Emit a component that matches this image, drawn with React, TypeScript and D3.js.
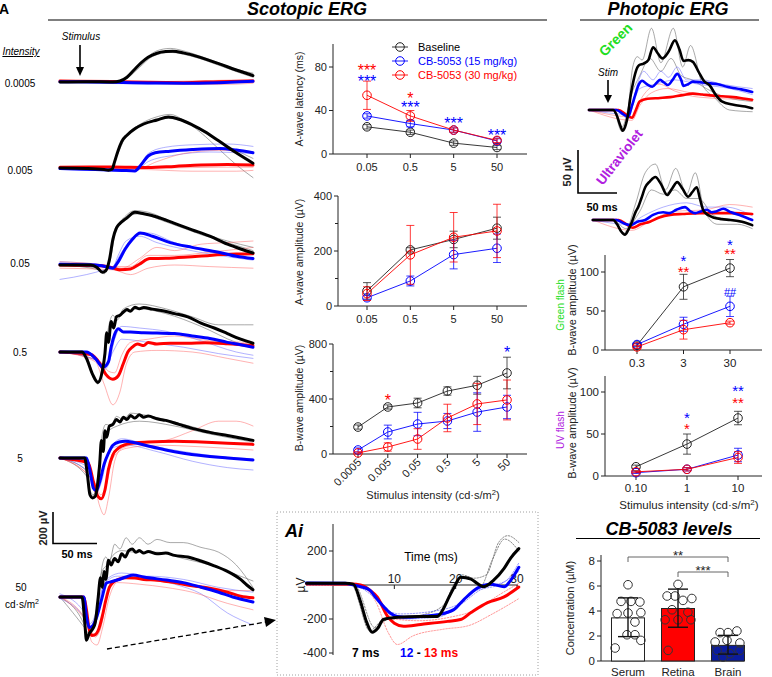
import React from 'react';
import * as d3 from 'd3';

type Pt = [number, number];
const FONT = 'Arial, "Liberation Sans", Helvetica, sans-serif';
const BLACK = '#000000';
const BLUE = '#0000ff';
const RED = '#ff0000';
const GREEN = '#22dd22';
const PURPLE = '#b020e0';
const NAVY = '#0b1c9e';

// ================= DATA =================
// ---- Scotopic ERG traces (time ms, amplitude µV) ----
const scotIntensities = ['0.0005', '0.005', '0.05', '0.5', '5', '50'];

const scot1Black: Pt[] = [[0,0],[30,2],[60,0],[68,6],[76,30],[84,75],[92,120],[100,155],[110,180],[120,190],[128,192],[140,182],[160,152],[180,115],[200,75],[219,40]];
const scot1Blue: Pt[] = [[0,2],[60,-2],[100,-6],[140,-8],[180,-4],[219,4]];
const scot1Red: Pt[] = [[0,6],[60,3],[100,-2],[140,-4],[180,2],[219,6]];
const scot1ThinBlack: Pt[][] = [
  [[0,0],[60,0],[70,10],[80,45],[90,110],[100,160],[110,195],[125,210],[140,195],[160,160],[180,120],[200,80],[219,55]],
  [[0,0],[60,0],[75,20],[90,90],[105,160],[125,185],[150,160],[180,105],[200,65],[219,30]],
];
const scot1ThinBlue: Pt[][] = [[[0,-3],[100,-12],[160,-6],[219,2]]];
const scot1ThinRed: Pt[][] = [
  [[0,3],[60,0],[120,-12],[180,-16],[219,-8]],
  [[0,8],[100,2],[160,8],[219,15]],
];

const scot2Black: Pt[] = [[0,0],[30,-3],[50,-10],[55,-14],[59,-8],[62,40],[66,110],[70,165],[76,205],[85,245],[95,275],[110,300],[123,318],[135,305],[150,270],[165,225],[180,170],[200,95],[219,30]];
const scot2Blue: Pt[] = [[0,-3],[40,-10],[70,-15],[85,-18],[92,20],[100,75],[108,95],[125,105],[150,115],[182,122],[200,112],[219,95]];
const scot2Red: Pt[] = [[0,5],[60,6],[100,3],[130,10],[160,18],[190,22],[219,18]];
const scot2ThinBlack: Pt[][] = [
  [[0,0],[50,-10],[58,-10],[62,40],[68,120],[75,200],[90,270],[110,320],[125,335],[140,300],[160,220],[180,120],[200,20],[219,-60]],
  [[0,5],[50,-5],[60,0],[64,80],[70,160],[80,230],[100,290],[123,310],[145,280],[170,200],[200,110],[219,60]],
];
const scot2ThinBlue: Pt[][] = [
  [[0,-5],[60,-15],[85,-15],[100,90],[120,130],[150,145],[190,150],[219,135]],
  [[0,-5],[85,-20],[100,40],[130,80],[170,100],[219,90]],
];
const scot2ThinRed: Pt[][] = [
  [[0,5],[90,0],[110,40],[140,90],[180,110],[219,100]],
  [[0,0],[100,-10],[150,-20],[200,-20],[219,-15]],
  [[0,0],[120,0],[180,5],[219,5]],
];

const scot3Black: Pt[] = [[0,0],[35,0],[42,-15],[48,-45],[52,-35],[56,30],[60,160],[64,230],[68,260],[75,290],[85,330],[95,320],[110,300],[130,260],[150,220],[170,180],[190,130],[205,100],[219,75]];
const scot3Blue: Pt[] = [[0,5],[40,0],[52,-10],[60,-20],[66,20],[74,100],[82,160],[91,200],[105,180],[125,140],[150,110],[180,80],[200,55],[219,40]];
const scot3Red: Pt[] = [[0,0],[45,-5],[58,-15],[68,-30],[80,-25],[90,5],[102,40],[120,42],[145,50],[170,60],[200,68],[219,70]];
const scot3ThinBlack: Pt[][] = [
  [[0,0],[44,-20],[49,-40],[57,60],[62,220],[70,280],[85,340],[100,330],[130,260],[160,200],[190,150],[219,110]],
  [[0,0],[44,-30],[50,-55],[57,30],[64,230],[75,300],[90,320],[120,270],[160,190],[190,140],[219,90]],
];
const scot3ThinBlue: Pt[][] = [
  [[0,-90],[30,-60],[50,-30],[60,-10],[70,80],[85,180],[100,200],[130,140],[170,80],[219,40]],
  [[0,20],[50,0],[60,-10],[66,60],[75,150],[90,180],[110,140],[140,100],[219,30]],
];
const scot3ThinRed: Pt[][] = [
  [[0,20],[50,0],[70,-20],[90,40],[110,110],[130,90],[160,130],[190,140],[219,150]],
  [[0,-20],[60,-30],[80,-60],[100,-20],[130,0],[170,-10],[219,-20]],
  [[0,0],[60,-10],[80,-10],[100,60],[130,60],[170,80],[219,110]],
];

const scot4Black: Pt[] = [[0,0],[25,0],[30,-40],[37,-140],[43,-190],[48,-120],[51,-10],[53,120],[55,60],[58,190],[61,150],[64,220],[68,230],[72,250],[76,265],[80,255],[85,280],[90,270],[95,278],[105,268],[115,260],[130,240],[145,220],[160,180],[175,150],[190,115],[205,80],[219,55]];
const scot4Blue: Pt[] = [[0,0],[30,0],[40,-40],[49,-95],[55,-60],[58,30],[62,110],[66,145],[72,125],[80,125],[95,120],[110,118],[130,115],[150,100],[170,85],[190,60],[205,45],[219,30]];
const scot4Red: Pt[] = [[0,0],[35,-15],[45,-70],[52,-140],[60,-170],[66,-150],[72,-70],[77,0],[82,30],[88,50],[95,40],[100,60],[110,50],[125,55],[145,55],[165,58],[190,52],[219,40]];
const scot4ThinBlack: Pt[][] = [
  [[0,0],[28,-20],[37,-150],[43,-200],[48,-100],[52,50],[56,180],[60,230],[65,200],[72,270],[90,300],[120,270],[150,220],[180,170],[200,170],[219,170]],
  [[0,0],[30,-30],[40,-170],[45,-180],[50,-50],[55,100],[60,180],[70,240],[90,270],[120,240],[160,160],[200,60],[219,30]],
];
const scot4ThinBlue: Pt[][] = [
  [[0,0],[40,-50],[50,-110],[55,-80],[62,80],[70,160],[90,150],[120,130],[160,70],[200,0],[219,-20]],
  [[0,0],[45,-60],[52,-90],[60,0],[70,80],[100,60],[140,30],[180,-10],[219,-40]],
];
const scot4ThinRed: Pt[][] = [
  [[0,0],[40,-60],[50,-200],[60,-330],[68,-250],[75,-80],[85,0],[110,10],[150,0],[190,-40],[219,-70]],
  [[0,0],[45,-60],[55,-120],[62,-130],[70,-20],[80,60],[100,80],[130,100],[170,70],[219,60]],
];

const scot5Black: Pt[] = [[0,0],[28,0],[31,-100],[34,-230],[37,-250],[40,-240],[43,-150],[45,-40],[47,110],[49,40],[51,170],[53,130],[56,200],[60,210],[64,240],[68,225],[72,255],[76,240],[80,265],[85,250],[90,270],[95,255],[100,262],[110,245],[120,235],[135,210],[150,185],[170,160],[190,140],[205,125],[219,110]];
const scot5Blue: Pt[] = [[0,0],[30,0],[34,-80],[38,-190],[41,-205],[45,-150],[50,-40],[55,30],[60,80],[67,100],[74,105],[85,95],[100,75],[120,50],[140,30],[160,15],[190,0],[219,-12]];
const scot5Red: Pt[] = [[0,0],[32,-30],[38,-150],[43,-240],[47,-255],[51,-200],[55,-70],[60,20],[66,60],[75,85],[85,95],[100,100],[130,105],[160,100],[190,92],[219,85]];
const scot5ThinBlack: Pt[][] = [
  [[0,0],[30,-80],[34,-200],[38,-230],[42,-150],[45,0],[48,150],[52,210],[58,200],[64,260],[72,240],[80,280],[95,270],[120,240],[160,180],[200,130],[219,110]],
  [[0,0],[31,-120],[35,-240],[40,-220],[44,-100],[48,80],[54,160],[65,200],[90,230],[130,200],[170,150],[219,100]],
];
const scot5ThinBlue: Pt[][] = [
  [[0,0],[33,-60],[38,-180],[43,-180],[50,-40],[58,60],[75,80],[110,40],[150,-20],[190,-60],[219,-75]],
  [[0,0],[35,-100],[41,-220],[47,-150],[55,40],[70,120],[100,80],[140,40],[180,10],[219,-5]],
];
const scot5ThinRed: Pt[][] = [
  [[0,0],[38,-150],[45,-300],[50,-355],[55,-250],[62,-20],[70,60],[90,90],[120,110],[150,170],[180,230],[200,230],[219,200]],
  [[0,0],[40,-160],[46,-230],[52,-180],[60,0],[75,60],[110,80],[160,70],[219,50]],
];

const scot6Black: Pt[] = [[0,0],[25,0],[28,-150],[30,-270],[33,-230],[37,-200],[40,-160],[43,-20],[46,120],[48,60],[50,160],[52,110],[55,230],[58,200],[62,240],[66,220],[70,270],[74,250],[78,290],[82,300],[86,280],[90,290],[95,275],[100,285],[110,270],[120,275],[130,260],[145,250],[160,225],[175,195],[190,160],[205,110],[212,75],[219,45]];
const scot6Blue: Pt[] = [[0,0],[27,0],[30,-120],[33,-190],[37,-180],[42,-120],[47,-20],[53,88],[58,95],[65,106],[75,125],[83,138],[95,125],[121,106],[140,90],[159,63],[180,30],[196,0],[219,-31]];
const scot6Red: Pt[] = [[0,0],[27,0],[30,-80],[33,-200],[36,-240],[40,-235],[44,-200],[48,-120],[52,-20],[56,60],[60,90],[66,110],[75,120],[85,118],[95,110],[110,105],[130,90],[150,70],[170,55],[190,30],[205,5],[219,-5]];
const scot6ThinBlack: Pt[][] = [
  [[0,0],[28,-180],[31,-250],[35,-200],[40,-150],[44,0],[48,200],[52,250],[56,220],[62,330],[68,300],[75,370],[82,330],[90,370],[100,330],[110,360],[125,340],[140,340],[160,310],[180,280],[200,200],[219,60]],
  [[0,0],[29,-200],[33,-230],[37,-170],[43,-40],[47,150],[53,200],[60,260],[70,290],[85,280],[110,280],[140,240],[170,200],[200,140],[219,100]],
];
const scot6ThinBlue: Pt[][] = [
  [[0,20],[28,-100],[33,-170],[38,-140],[46,20],[55,120],[70,150],[100,120],[130,80],[160,20],[190,-100],[219,-175]],
  [[0,-10],[30,-150],[35,-200],[42,-100],[50,80],[65,130],[100,130],[140,110],[180,60],[219,30]],
];
const scot6ThinRed: Pt[][] = [
  [[0,0],[30,-150],[36,-280],[42,-300],[48,-200],[56,0],[65,90],[90,80],[120,60],[150,30],[190,-40],[219,-80]],
  [[0,0],[33,-180],[40,-250],[46,-200],[55,40],[70,120],[100,110],[140,80],[180,40],[219,40]],
];

// ---- Photopic ERG traces (time ms, amplitude µV) ----
const greenBlack: Pt[] = [[0,0],[31,0],[35,-5],[40,-18],[43,-24],[46,-20],[50,-5],[53,15],[56,30],[60,45],[64,52],[70,54],[76,58],[82,73],[88,66],[94,60],[102,68],[110,81],[116,70],[121,57],[127,58],[133,56],[140,45],[147,34],[155,28],[162,18],[170,10],[185,6],[200,4],[209,2]];
const greenBlue: Pt[] = [[0,0],[35,0],[44,-5],[50,-8],[55,5],[59,17],[64,30],[68,34],[74,30],[81,27],[87,32],[91,35],[96,32],[101,29],[107,35],[113,42],[118,35],[121,28],[127,30],[133,33],[145,32],[155,31],[165,30],[177,27],[195,24],[209,21]];
const greenRed: Pt[] = [[0,0],[38,0],[47,-5],[55,-9],[60,0],[65,10],[75,13],[91,14],[104,15],[118,17],[133,19],[145,18],[155,17],[170,16],[185,15],[200,13],[209,12]];
const greenThinBlack: Pt[][] = [
  [[0,0],[31,0],[42,-25],[50,0],[56,50],[62,62],[68,58],[80,95],[92,55],[108,95],[120,50],[130,75],[145,30],[160,15],[180,0],[209,-2]],
  [[0,0],[31,0],[42,-20],[55,20],[65,40],[78,60],[92,45],[105,60],[118,40],[132,35],[150,25],[175,15],[209,10]],
];
const greenThinBlue: Pt[][] = [
  [[0,0],[35,0],[50,-10],[62,30],[70,45],[82,35],[92,45],[102,38],[113,50],[125,35],[145,35],[170,30],[209,25]],
  [[0,0],[50,-5],[65,25],[85,30],[110,35],[140,30],[180,25],[209,18]],
];
const greenThinRed: Pt[][] = [
  [[0,0],[55,-12],[65,5],[80,20],[100,25],[130,20],[180,15],[209,10]],
  [[0,0],[55,-8],[68,15],[90,30],[110,22],[140,15],[209,12]],
];

const uvBlack: Pt[] = [[5,0],[31,0],[36,-5],[41,-13],[46,-17],[50,-12],[55,-2],[60,10],[63,15],[67,25],[72,38],[78,45],[85,50],[92,42],[100,29],[106,36],[113,44],[120,36],[127,27],[132,32],[138,38],[142,25],[146,12],[152,6],[159,3],[170,1],[181,0],[196,-2],[209,-6]];
const uvBlue: Pt[] = [[5,0],[35,0],[45,-4],[53,-6],[62,-2],[72,0],[82,6],[95,9],[103,8],[112,12],[123,15],[130,10],[136,8],[143,10],[151,12],[157,9],[163,10],[172,13],[182,9],[195,5],[209,0]];
const uvRed: Pt[] = [[5,0],[38,0],[48,-5],[56,-9],[66,-5],[78,-2],[90,3],[104,6],[120,7],[142,8],[165,8],[185,8],[209,7]];
const uvThinBlack: Pt[][] = [
  [[5,0],[31,0],[45,-15],[60,20],[72,55],[85,65],[98,35],[111,60],[125,30],[136,55],[148,10],[165,-5],[190,-5],[209,-10]],
  [[5,0],[31,0],[47,-10],[65,10],[80,35],[95,30],[110,35],[125,25],[140,25],[160,5],[190,-2],[209,-5]],
];
const uvThinBlue: Pt[][] = [[[5,0],[50,-5],[70,5],[95,15],[125,20],[150,15],[175,15],[209,5]]];
const uvThinRed: Pt[][] = [[[5,0],[55,-12],[80,0],[110,10],[150,12],[180,18],[209,15]]];

// ---- Ai inset (time ms, µV) ----
const aiBlack: Pt[] = [[-4.3,10],[2,10],[3.3,5],[4.5,-100],[5.5,-220],[6.4,-278],[7.3,-255],[8.2,-203],[10.5,-190],[14.3,-185],[17,-185],[18,-140],[18.7,-87],[19.8,-10],[20.8,46],[22.5,35],[23.5,10],[24.6,-10],[26.2,29],[27.9,98],[29,160],[30.3,214]];
const aiBlue: Pt[] = [[-4.3,12],[2,10],[3,2],[4.5,-10],[6,-30],[7,-75],[8.2,-125],[9.3,-165],[10.5,-185],[12.7,-190],[15,-182],[17,-175],[19.7,-145],[21.3,-87],[23.6,-17],[25.7,5],[27.9,-10],[29,29],[30.3,104]];
const aiRed: Pt[] = [[-4.3,8],[3,6],[4.5,0],[6,-30],[7.2,-70],[8.9,-185],[10,-225],[11.5,-243],[14.3,-232],[18.7,-214],[20.8,-203],[22.5,-162],[25.2,-104],[27.9,-70],[30.3,-12]];
const aiThinBlack: Pt[][] = [
  [[-4.3,0],[3,0],[6,-270],[8,-210],[11,-195],[17,-180],[19,-60],[21,60],[23,40],[25,60],[27,250],[28.5,290],[30.3,250]],
  [[-4.3,0],[3.5,0],[6.8,-250],[9,-200],[14,-180],[18,-120],[20,20],[22,50],[24,-10],[26,150],[28,270],[30.3,200]],
];
const aiThinBlue: Pt[][] = [
  [[-4.3,0],[3,0],[6,-40],[8.5,-140],[11,-170],[17,-150],[20,-120],[23,-40],[26,0],[28,20],[30.3,130]],
  [[-4.3,0],[3,0],[8,-110],[11,-200],[17,-190],[21,-110],[24,-30],[27,0],[30.3,80]],
];
const aiThinRed: Pt[][] = [
  [[-4.3,0],[4,0],[7,-100],[9,-280],[10.5,-350],[13,-300],[18,-260],[22,-240],[26,-170],[30.3,-80]],
  [[-4.3,0],[4,0],[7.5,-80],[10,-200],[14,-210],[19,-190],[23,-150],[27,-60],[30.3,10]],
];

// ---- A-wave latency (ms) ----
const latCats = ['0.05', '0.5', '5', '50'];
const latBase = [25, 20, 10, 6];
const latBaseErr = [2, 2, 2, 2];
const latLow = [35, 28, 22, 12];
const latLowErr = [2, 3, 2, 2];
const latHigh = [54, 35, 22, 12.5];
const latHighErr = [13, 5, 2, 2];
const latStars: [string, string, string, number][] = [['0.05','***',RED,80],['0.05','***',BLUE,70],['0.5','*',RED,54],['0.5','***',BLUE,46],['5','***',BLUE,31],['50','***',BLUE,20]];

// ---- A-wave amplitude (µV) ----
const ampCats = ['0.05', '0.5', '5', '50'];
const ampBase = [55, 204, 242, 283];
const ampBaseErr = [30, 8, 30, 40];
const ampLow = [30, 91, 187, 210];
const ampLowErr = [8, 18, 52, 52];
const ampHigh = [45, 186, 250, 273];
const ampHighErr = [25, 107, 90, 97];

// ---- B-wave amplitude (µV) ----
const bCats = ['0.0005', '0.005', '0.05', '0.5', '5', '50'];
const bBase = [196, 342, 371, 458, 500, 589];
const bBaseErr = [15, 15, 35, 30, 65, 115];
const bLow = [29, 160, 218, 240, 305, 342];
const bLowErr = [15, 50, 85, 55, 140, 85];
const bHigh = [8, 51, 109, 262, 364, 393];
const bHighErr = [8, 30, 75, 100, 150, 145];
const bStars: [string, string, string, number][] = [['0.005','*',RED,415],['50','*',BLUE,764]];

// ---- Photopic green flash b-wave ----
const gCats = ['0.3', '3', '30'];
const gBase = [6, 81, 105];
const gBaseErr = [2, 16, 11];
const gLow = [7, 33, 56];
const gLowErr = [2, 9, 13];
const gHigh = [4, 26, 35];
const gHighErr = [2, 12, 2];
const gStars: [string, string, string, number][] = [['3','*',BLUE,119],['3','**',RED,105],['30','*',BLUE,139],['30','**',RED,127]];
const gHash: [string, string, string, number][] = [['30','##',BLUE,74]];

// ---- Photopic UV flash b-wave ----
const uCats = ['0.10', '1', '10'];
const uBase = [11, 38, 69];
const uBaseErr = [2, 12, 8];
const uLow = [4, 8, 25];
const uLowErr = [1, 2, 8];
const uHigh = [5, 8, 22];
const uHighErr = [1, 2, 7];
const uStars: [string, string, string, number][] = [['1','*',BLUE,73],['1','*',RED,60],['10','**',BLUE,106],['10','**',RED,91]];

// ---- CB-5083 levels (µM) ----
const tissues = ['Serum', 'Retina', 'Brain'];
const tissueMeans = [3.45, 4.2, 1.25];
const tissueSdLow = [1.95, 2.7, 0.55];
const tissueSdHigh = [5.05, 5.75, 2.05];
const serumPts = [6.1, 4.77, 4.77, 4.72, 3.79, 3.84, 3.87, 3.12, 2.1, 2.1, 1.04, 1.65];
const serumSpread = [0, -0.21, 0.09, 0.36, -0.33, 0, 0.39, 0.21, 0.21, -0.03, -0.39, 0.39];
const retinaPts = [5.2, 6.13, 5.2, 4.85, 5.0, 4.1, 3.9, 3.3, 3.3, 3.3, 0.85];
const retinaSpread = [-0.33, 0, -0.09, 0.15, 0.42, -0.18, 0.3, -0.39, 0, 0.39, -0.3];
const brainPts = [2.27, 2.27, 2.4, 1.52, 1.65, 1.44, 0.85, 0.59, 0.85, 0.32];
const brainSpread = [-0.24, 0, 0.27, -0.39, -0.03, 0.36, -0.33, 0.06, 0.36, -0.15];
const brackets: [string, string, string, number][] = [['Serum','Brain','**',8.32],['Retina','Brain','***',7.12]];

// ================= LAYOUT / HELPERS =================
const scotBaselines = [82, 168, 265, 352, 458, 597];
const scotLabelY = [87, 174, 267, 356, 462];
const scotX = d3.scaleLinear().domain([0, 219]).range([60, 253]);

const scotRows = [
  { k: scot1Black, b: scot1Blue, r: scot1Red, tk: scot1ThinBlack, tb: scot1ThinBlue, tr: scot1ThinRed },
  { k: scot2Black, b: scot2Blue, r: scot2Red, tk: scot2ThinBlack, tb: scot2ThinBlue, tr: scot2ThinRed },
  { k: scot3Black, b: scot3Blue, r: scot3Red, tk: scot3ThinBlack, tb: scot3ThinBlue, tr: scot3ThinRed },
  { k: scot4Black, b: scot4Blue, r: scot4Red, tk: scot4ThinBlack, tb: scot4ThinBlue, tr: scot4ThinRed },
  { k: scot5Black, b: scot5Blue, r: scot5Red, tk: scot5ThinBlack, tb: scot5ThinBlue, tr: scot5ThinRed },
  { k: scot6Black, b: scot6Blue, r: scot6Red, tk: scot6ThinBlack, tb: scot6ThinBlue, tr: scot6ThinRed },
];

const THIN_K = '#555555';
const THIN_B = '#5c5cff';
const THIN_R = '#ff5c5c';

function mkLine(xs: any, ys: any) {
  return d3.line<Pt>().x(d => xs(d[0])).y(d => ys(d[1])).curve(d3.curveMonotoneX);
}

function TraceGroup({ xs, ys, k, b, r, tk, tb, tr, thick = 3, thin = 0.6, dash }: any) {
  const ln = mkLine(xs, ys);
  return (
    <g fill="none" strokeLinejoin="round" strokeLinecap="round">
      {tk.map((p: Pt[], i: number) => <path key={'tk' + i} d={ln(p)!} stroke={THIN_K} strokeWidth={thin} strokeDasharray={dash} opacity={0.85} />)}
      {tb.map((p: Pt[], i: number) => <path key={'tb' + i} d={ln(p)!} stroke={THIN_B} strokeWidth={thin} strokeDasharray={dash} opacity={0.8} />)}
      {tr.map((p: Pt[], i: number) => <path key={'tr' + i} d={ln(p)!} stroke={THIN_R} strokeWidth={thin} strokeDasharray={dash} opacity={0.8} />)}
      <path d={ln(r)!} stroke={RED} strokeWidth={thick} />
      <path d={ln(b)!} stroke={BLUE} strokeWidth={thick} />
      <path d={ln(k)!} stroke={BLACK} strokeWidth={thick} />
    </g>
  );
}

function SeriesMarks({ cats, xs, ys, values, errs, color, r = 4.3, cap = 4 }: any) {
  const ln = d3.line<number>().x((_, i) => xs(cats[i])).y(d => ys(d));
  return (
    <g>
      <path d={ln(values)!} fill="none" stroke={color} strokeWidth={0.9} />
      {values.map((v: number, i: number) => {
        const x = xs(cats[i]);
        const e = errs[i];
        const lo = ys(Math.max(0, v - e));
        const hi = ys(v + e);
        return (
          <g key={i} stroke={color} strokeWidth={0.9}>
            <line x1={x} x2={x} y1={lo} y2={hi} opacity={0.85} />
            <line x1={x - cap} x2={x + cap} y1={hi} y2={hi} opacity={0.85} />
            <line x1={x - cap} x2={x + cap} y1={lo} y2={lo} opacity={0.85} />
            <circle cx={x} cy={ys(v)} r={r} fill="none" strokeWidth={1} />
          </g>
        );
      })}
    </g>
  );
}

function YAxis({ x, ys, y1, y2, ticks, minor = [], fs = 11 }: any) {
  return (
    <g>
      <line x1={x} x2={x} y1={y1} y2={y2} stroke="#222" strokeWidth={1} />
      {ticks.map((t: number) => (
        <g key={t}>
          <line x1={x - 4} x2={x} y1={ys(t)} y2={ys(t)} stroke="#222" />
          <text x={x - 6} y={ys(t) + fs * 0.36} textAnchor="end" fontSize={fs} fill="#222">{t}</text>
        </g>
      ))}
      {minor.map((t: number) => <line key={'m' + t} x1={x - 3} x2={x} y1={ys(t)} y2={ys(t)} stroke="#222" />)}
    </g>
  );
}

function XAxis({ y, x1, x2, cats, xs, fs = 11, labelY, rotate = false }: any) {
  return (
    <g>
      <line x1={x1} x2={x2} y1={y} y2={y} stroke="#222" strokeWidth={1} />
      {cats.map((c: string) => (
        <g key={c}>
          <line x1={xs(c)} x2={xs(c)} y1={y} y2={y + 4} stroke="#222" />
          {rotate ? (
            <text transform={`translate(${xs(c) + 4},${y + 9}) rotate(-45)`} textAnchor="end" fontSize={fs} fill="#222">{c}</text>
          ) : (
            <text x={xs(c)} y={labelY} textAnchor="middle" fontSize={fs} fill="#222">{c}</text>
          )}
        </g>
      ))}
    </g>
  );
}

function Stars({ list, xs, ys, fs = 16, off = 0.57 }: any) {
  return (
    <g>
      {list.map((s: [string, string, string, number], i: number) => (
        <text key={i} x={xs(s[0])} y={ys(s[3]) + fs * off} textAnchor="middle" fontSize={fs} fill={s[2]}>{s[1]}</text>
      ))}
    </g>
  );
}

function VLabel({ x, y, children, fs = 10.5, fill = '#222' }: any) {
  return <text transform={`translate(${x},${y}) rotate(-90)`} textAnchor="middle" fontSize={fs} fill={fill}>{children}</text>;
}

function IntensityLabel({ x, y, fs = 11 }: any) {
  return (
    <text x={x} y={y} textAnchor="middle" fontSize={fs} fill="#222">
      Stimulus intensity (cd·s/m<tspan dy={-4} fontSize={fs * 0.7}>2</tspan><tspan dy={4}>)</tspan>
    </text>
  );
}

// ================= APP =================
export default function App() {
  const scotY = (base: number) => d3.scaleLinear().domain([0, 200]).range([base, base - 32]);

  const phX = d3.scaleLinear().domain([0, 210]).range([589, 753]);
  const greenY = d3.scaleLinear().domain([0, 50]).range([110, 67]);
  const uvY = d3.scaleLinear().domain([0, 50]).range([220, 177]);

  const aiX = d3.scaleLinear().domain([0, 30]).range([333, 517]);
  const aiY = d3.scaleLinear().domain([0, 200]).range([585, 551]);

  const latX = d3.scalePoint<string>().domain(latCats).range([367, 497]);
  const latY = d3.scaleLinear().domain([0, 100]).range([154, 45.25]);
  const ampX = d3.scalePoint<string>().domain(ampCats).range([367, 497]);
  const ampY = d3.scaleLinear().domain([0, 400]).range([306, 196]);
  const bX = d3.scalePoint<string>().domain(bCats).range([358, 507]);
  const bY = d3.scaleLinear().domain([0, 800]).range([454, 344]);
  const gX = d3.scalePoint<string>().domain(gCats).range([637, 730]);
  const gY = d3.scaleLinear().domain([0, 120]).range([350, 256.4]);
  const uX = d3.scalePoint<string>().domain(uCats).range([636, 738]);
  const uY = d3.scaleLinear().domain([0, 120]).range([476, 375.2]);
  const barX = d3.scaleBand<string>().domain(tissues).range([603, 753]).paddingInner(0.34).paddingOuter(0.17);
  const barY = d3.scaleLinear().domain([0, 8]).range([661, 561]);
  const barFills = ['#ffffff', RED, NAVY];
  const barPts = [serumPts, retinaPts, brainPts];
  const barSpread = [serumSpread, retinaSpread, brainSpread];

  const bw = barX.bandwidth();
  const cx = (t: string) => (barX(t) as number) + bw / 2;

  return (
    <svg width={772} height={677} style={{ position: 'absolute', left: 0, top: 0 }} fontFamily={FONT}>
      <rect x={0} y={0} width={772} height={677} fill="#ffffff" />

      <text x={-1} y={14} fontSize={14} fontWeight="bold" fill="#000">A</text>

      <text x={307} y={15} textAnchor="middle" fontSize={18} fontWeight="bold" fontStyle="italic">Scotopic ERG</text>
      <line x1={48} x2={547} y1={20} y2={20} stroke="#000" strokeWidth={1.2} />
      <text x={668} y={15} textAnchor="middle" fontSize={18} fontWeight="bold" fontStyle="italic">Photopic ERG</text>
      <line x1={580} x2={759} y1={20} y2={20} stroke="#000" strokeWidth={1.2} />

      {/* ===== Scotopic traces ===== */}
      <text x={21} y={55} textAnchor="middle" fontSize={10} fontStyle="italic" textDecoration="underline">Intensity</text>
      <text x={81} y={40} textAnchor="middle" fontSize={10} fontStyle="italic">Stimulus</text>
      <line x1={80} x2={80} y1={45} y2={68} stroke="#000" strokeWidth={1.6} />
      <polygon points="76,67 84,67 80,76" fill="#000" />
      {scotIntensities.slice(0, 5).map((s, i) => (
        <text key={s} x={20} y={scotLabelY[i]} textAnchor="middle" fontSize={10}>{s}</text>
      ))}
      <text x={21} y={591} textAnchor="middle" fontSize={10}>{scotIntensities[5]}</text>
      <text x={22} y={608} textAnchor="middle" fontSize={10}>cd·s/m<tspan dy={-4} fontSize={7}>2</tspan></text>
      {scotRows.map((row, i) => (
        <TraceGroup key={i} xs={scotX} ys={scotY(scotBaselines[i])} {...row} thick={3} thin={0.6} />
      ))}
      <path d="M53,512 V543.5 H97" fill="none" stroke="#000" strokeWidth={1.6} />
      <VLabel x={47} y={528} fs={11}><tspan fontWeight="bold">200 µV</tspan></VLabel>
      <text x={77} y={558} textAnchor="middle" fontSize={11} fontWeight="bold">50 ms</text>
      <line x1={107} y1={649} x2={266} y2={622} stroke="#000" strokeWidth={1.3} strokeDasharray="5,3" />
      <polygon points="276,620 264,617 266,627" fill="#000" />

      {/* ===== A-wave latency ===== */}
      <YAxis x={333} ys={latY} y1={154} y2={44} ticks={[0, 40, 80]} />
      <XAxis y={154} x1={333} x2={527} cats={latCats} xs={latX} labelY={171} />
      <VLabel x={303} y={99}>A-wave latency (ms)</VLabel>
      <SeriesMarks cats={latCats} xs={latX} ys={latY} values={latBase} errs={latBaseErr} color="#222" />
      <SeriesMarks cats={latCats} xs={latX} ys={latY} values={latLow} errs={latLowErr} color={BLUE} />
      <SeriesMarks cats={latCats} xs={latX} ys={latY} values={latHigh} errs={latHighErr} color={RED} />
      <Stars list={latStars} xs={latX} ys={latY} />
      {[['Baseline', '#222'], ['CB-5053 (15 mg/kg)', BLUE], ['CB-5053 (30 mg/kg)', RED]].map((l, i) => (
        <g key={l[0]}>
          <line x1={392} x2={408} y1={47 + i * 14} y2={47 + i * 14} stroke={l[1]} strokeWidth={0.9} />
          <circle cx={400} cy={47 + i * 14} r={4.3} fill="none" stroke={l[1]} strokeWidth={1} />
          <text x={418} y={51 + i * 14} fontSize={11} fill={l[1] === '#222' ? '#000' : l[1]}>{l[0]}</text>
        </g>
      ))}

      {/* ===== A-wave amplitude ===== */}
      <YAxis x={338} ys={ampY} y1={306} y2={196} ticks={[0, 200, 400]} minor={[100, 300]} />
      <XAxis y={306} x1={338} x2={527} cats={ampCats} xs={ampX} labelY={323} />
      <VLabel x={303} y={252}>A-wave amplitude (µV)</VLabel>
      <SeriesMarks cats={ampCats} xs={ampX} ys={ampY} values={ampBase} errs={ampBaseErr} color="#222" />
      <SeriesMarks cats={ampCats} xs={ampX} ys={ampY} values={ampLow} errs={ampLowErr} color={BLUE} />
      <SeriesMarks cats={ampCats} xs={ampX} ys={ampY} values={ampHigh} errs={ampHighErr} color={RED} />

      {/* ===== B-wave amplitude ===== */}
      <YAxis x={333} ys={bY} y1={454} y2={344} ticks={[0, 400, 800]} minor={[200, 600]} />
      <XAxis y={454} x1={333} x2={527} cats={bCats} xs={bX} rotate />
      <VLabel x={303} y={398}>B-wave amplitude (µV)</VLabel>
      <SeriesMarks cats={bCats} xs={bX} ys={bY} values={bBase} errs={bBaseErr} color="#222" />
      <SeriesMarks cats={bCats} xs={bX} ys={bY} values={bLow} errs={bLowErr} color={BLUE} />
      <SeriesMarks cats={bCats} xs={bX} ys={bY} values={bHigh} errs={bHighErr} color={RED} />
      <Stars list={bStars} xs={bX} ys={bY} />
      <IntensityLabel x={433} y={499} />

      {/* ===== Ai inset ===== */}
      <rect x={277} y={512} width={261} height={163} fill="none" stroke="#888" strokeWidth={0.8} strokeDasharray="1,2" />
      <text x={285} y={537} fontSize={18} fontWeight="bold" fontStyle="italic">Ai</text>
      <line x1={333} x2={333} y1={524} y2={655} stroke="#222" strokeWidth={1} />
      {[200, -200, -400].map(t => (
        <g key={t}>
          <line x1={329} x2={333} y1={aiY(t)} y2={aiY(t)} stroke="#222" />
          <text x={327} y={aiY(t) + 4.3} textAnchor="end" fontSize={12} fill="#222">{t}</text>
        </g>
      ))}
      <line x1={333} x2={518} y1={aiY(0)} y2={aiY(0)} stroke="#222" strokeWidth={1} />
      {[10, 20, 30].map(t => (
        <g key={t}>
          <line x1={aiX(t)} x2={aiX(t)} y1={aiY(0)} y2={aiY(0) + 4} stroke="#222" />
          <text x={aiX(t)} y={aiY(0) - 2} textAnchor="middle" fontSize={12} fill="#222">{t}</text>
        </g>
      ))}
      <text x={431} y={561} textAnchor="middle" fontSize={12}>Time (ms)</text>
      <VLabel x={305} y={585} fs={12}>µV</VLabel>
      <TraceGroup xs={aiX} ys={aiY} k={aiBlack} b={aiBlue} r={aiRed} tk={aiThinBlack} tb={aiThinBlue} tr={aiThinRed} thick={3} thin={0.8} dash="1.5,1.5" />
      <text x={352} y={657} fontSize={12} fontWeight="bold">7 ms</text>
      <text x={400} y={657} fontSize={12} fontWeight="bold">
        <tspan fill={BLUE}>12</tspan><tspan fill="#000"> - </tspan><tspan fill={RED}>13 ms</tspan>
      </text>

      {/* ===== Photopic traces ===== */}
      <text transform="translate(619,43) rotate(-45)" textAnchor="middle" fontSize={14} fontWeight="bold" fill={GREEN}>Green</text>
      <text x={608} y={76} textAnchor="middle" fontSize={10} fontStyle="italic">Stim</text>
      <line x1={608} x2={608} y1={80} y2={96} stroke="#000" strokeWidth={1.6} />
      <polygon points="604,95 612,95 608,103" fill="#000" />
      <TraceGroup xs={phX} ys={greenY} k={greenBlack} b={greenBlue} r={greenRed} tk={greenThinBlack} tb={greenThinBlue} tr={greenThinRed} thick={2.6} thin={0.6} />
      <path d="M578,150 V193 H617" fill="none" stroke="#000" strokeWidth={1.6} />
      <VLabel x={571} y={172} fs={11}><tspan fontWeight="bold">50 µV</tspan></VLabel>
      <text x={602} y={211} textAnchor="middle" fontSize={11} fontWeight="bold">50 ms</text>
      <text transform="translate(623,160) rotate(-52)" textAnchor="middle" fontSize={13.5} fontWeight="bold" fill={PURPLE}>Ultraviolet</text>
      <TraceGroup xs={phX} ys={uvY} k={uvBlack} b={uvBlue} r={uvRed} tk={uvThinBlack} tb={uvThinBlue} tr={uvThinRed} thick={2.6} thin={0.6} />

      {/* ===== Green flash ===== */}
      <YAxis x={605} ys={gY} y1={350} y2={255} ticks={[0, 50, 100]} fs={11.5} />
      <XAxis y={350} x1={605} x2={762} cats={gCats} xs={gX} labelY={367} fs={11.5} />
      <VLabel x={576} y={300} fs={11}>B-wave amplitude (µV)</VLabel>
      <VLabel x={564} y={305} fs={10} fill={GREEN}>Green flash</VLabel>
      <SeriesMarks cats={gCats} xs={gX} ys={gY} values={gBase} errs={gBaseErr} color="#222" />
      <SeriesMarks cats={gCats} xs={gX} ys={gY} values={gLow} errs={gLowErr} color={BLUE} />
      <SeriesMarks cats={gCats} xs={gX} ys={gY} values={gHigh} errs={gHighErr} color={RED} />
      <Stars list={gStars} xs={gX} ys={gY} fs={15} />
      <Stars list={gHash} xs={gX} ys={gY} fs={11} off={0.36} />

      {/* ===== UV flash ===== */}
      <YAxis x={605} ys={uY} y1={476} y2={376} ticks={[0, 50, 100]} fs={11.5} />
      <XAxis y={476} x1={605} x2={762} cats={uCats} xs={uX} labelY={492} fs={11.5} />
      <VLabel x={576} y={423} fs={11}>B-wave amplitude (µV)</VLabel>
      <VLabel x={564} y={430} fs={10} fill={PURPLE}>UV flash</VLabel>
      <SeriesMarks cats={uCats} xs={uX} ys={uY} values={uBase} errs={uBaseErr} color="#222" />
      <SeriesMarks cats={uCats} xs={uX} ys={uY} values={uLow} errs={uLowErr} color={BLUE} />
      <SeriesMarks cats={uCats} xs={uX} ys={uY} values={uHigh} errs={uHighErr} color={RED} />
      <Stars list={uStars} xs={uX} ys={uY} fs={15} />
      <IntensityLabel x={689} y={509} fs={11.5} />

      {/* ===== CB-5083 levels ===== */}
      <text x={669} y={535} textAnchor="middle" fontSize={18} fontWeight="bold" fontStyle="italic">CB-5083 levels</text>
      <line x1={576} x2={760} y1={538.5} y2={538.5} stroke="#000" strokeWidth={1.2} />
      <YAxis x={601} ys={barY} y1={661} y2={555} ticks={[0, 2, 4, 6, 8]} fs={11.5} />
      <line x1={601} x2={744} y1={661} y2={661} stroke="#222" strokeWidth={1} />
      <VLabel x={574} y={608} fs={11}>Concentration (µM)</VLabel>
      {tissues.map((t, i) => (
        <g key={t}>
          <rect x={barX(t)} y={barY(tissueMeans[i])} width={bw} height={barY(0) - barY(tissueMeans[i])} fill={barFills[i]} stroke="#222" strokeWidth={1} />
          <text x={cx(t)} y={676} textAnchor="middle" fontSize={11.5} fill="#222">{t}</text>
        </g>
      ))}
      {tissues.map((t, i) => (
        <g key={'p' + t}>
          {barPts[i].map((v, j) => (
            <circle key={j} cx={cx(t) + barSpread[i][j] * bw} cy={barY(v)} r={4.3} fill="none" stroke="#333" strokeWidth={1} />
          ))}
        </g>
      ))}
      {tissues.map((t, i) => (
        <g key={'e' + t} stroke="#111" strokeWidth={1.4}>
          <line x1={cx(t)} x2={cx(t)} y1={barY(tissueSdLow[i])} y2={barY(tissueSdHigh[i])} />
          <line x1={cx(t) - 10} x2={cx(t) + 10} y1={barY(tissueSdHigh[i])} y2={barY(tissueSdHigh[i])} />
          <line x1={cx(t) - 10} x2={cx(t) + 10} y1={barY(tissueSdLow[i])} y2={barY(tissueSdLow[i])} />
        </g>
      ))}
      {brackets.map((b, i) => {
        const x1 = cx(b[0]);
        const x2 = cx(b[1]);
        const y = barY(b[3]);
        return (
          <g key={i}>
            <path d={`M${x1},${y + 5} V${y} H${x2} V${y + 5}`} fill="none" stroke="#555" strokeWidth={0.9} />
            <text x={(x1 + x2) / 2} y={y + 3} textAnchor="middle" fontSize={13} fill="#222">{b[2]}</text>
          </g>
        );
      })}
    </svg>
  );
}
